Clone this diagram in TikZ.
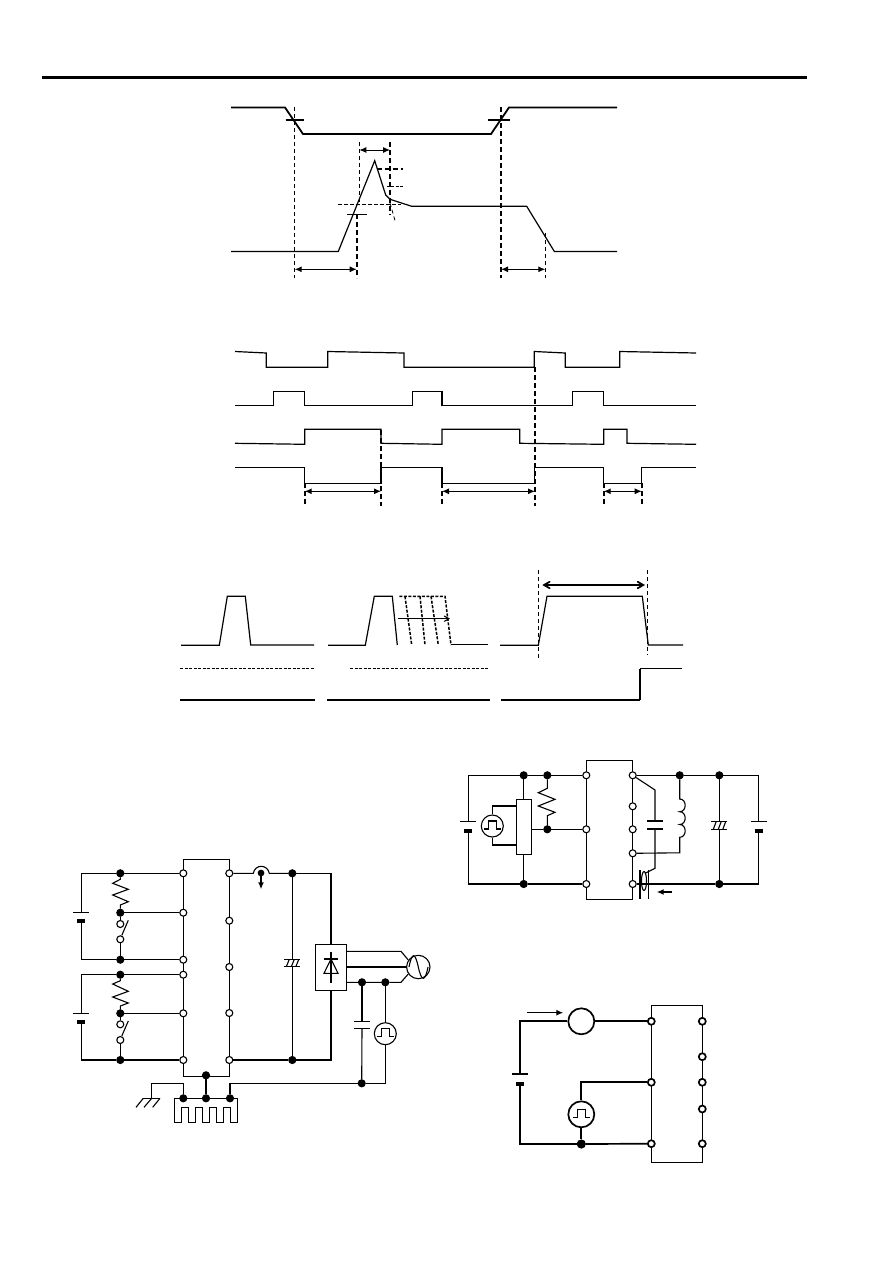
\documentclass[tikz,border=0pt]{standalone}
\usepackage{tikz}
\usetikzlibrary{shapes,arrows,arrows.meta,positioning,calc}
\newcommand{\pulsewave}[1]{\draw (#1) ++(-8,3) -- ++(4,0) -- ++(0,-8) -- ++(8.5,0) -- ++(0,8) -- ++(4,0);}
\newcommand{\battery}[2]{
  \draw (#1) ++(-8,0) -- ++(16,0);
  \draw [line width=4pt] (#2) ++(-4,0.8) -- ++(8,0);}
\newcommand{\elcap}[2]{
  \draw (#1) ++(-8,0) -- ++(16,0);
  \draw (#2) ++(-8,0) -- ++(16,0);
  \draw (#2) ++(-6,0) -- ($(#1)+(-3,0)$) (#2) ++(-1,0) -- ($(#1)+(2,0)$) (#2) ++(3.5,0) -- ($(#1)+(6.5,0)$);}
\newcommand{\twoplate}[2]{
  \draw (#1) ++(-8,0) -- ++(16,0);
  \draw (#2) ++(-8,0) -- ++(16,0);}
\tikzset{
term/.style = {draw, fill=white, circle, inner sep=0pt, minimum size=7pt},
fork/.style = {draw, fill=black, circle, inner sep=0pt, minimum size=7pt},
chip/.style = {draw, rectangle, inner sep=0pt, outer sep=0pt},
source/.style = {draw, fill=white, circle, inner sep=0pt},
wave/.style = {line width=1.2pt},
fatwave/.style = {line width=1.8pt},
guide/.style = {dashed, dash pattern=on 4pt off 3pt, line width=.9pt},
fatguide/.style = {dashed, dash pattern=on 5pt off 3pt, line width=1.7pt},
dotguide/.style = {dashed, dash pattern=on 3pt off 1.5pt, line width=1.5pt},
dimen/.style = {<->, line width=1pt},
fatwire/.style = {line width=1.7pt},
}
\begin{document}
\begin{tikzpicture}[x=1pt, y=-1pt, >={Latex[length=7pt,width=6pt]}, line width=1.1pt]
\useasboundingbox (0,0) rectangle (892,1263);
\draw [line width=3pt] (42,77) -- (807,77);

\draw [fatwave] (231,107.5) -- (285,107.5) -- (303,134) -- (491,134) -- (509,107.5) -- (617,107.5);
\draw (285.7,120) -- (304,120) (488,120) -- (510,120);
\draw [wave] (231,251.4) -- (338.3,251.4) -- (374.7,160.7) -- (385.7,195) -- (390,199.3) -- (411.7,206.3) -- (526.7,206.3) -- (554.3,251.4) -- (617,251.4);
\draw [guide, line width=.8pt] (390,203) -- (395.7,223);
\draw [guide] (294.7,107) -- (294.7,278);
\draw [fatguide] (501,107) -- (501,278);
\draw [guide] (359.3,142) -- (359.3,205);
\draw [fatguide] (356.7,214) -- (356.7,278);
\draw [fatguide] (390,142) -- (390,215);
\draw [guide] (545.3,233) -- (545.3,278);
\draw [dotguide, dash pattern=on 4pt off 2pt] (337.7,204.7) -- (401,204.7);
\draw [fatguide] (376.7,169) -- (403,169);
\draw [dotguide] (386.7,186.7) -- (403,186.7);
\draw (347.3,214.3) -- (366.7,214.3);
\draw [dimen] (359.3,150) -- (390,150);
\draw [dimen] (294.7,269.3) -- (356.7,269.3);
\draw [dimen] (501,269.3) -- (545.3,269.3);

\draw [wave] (235,351.5) -- (266.3,353) -- (266.3,367.3) -- (327.7,367.3) -- (327.7,351.5) -- (404,353) -- (404,367.3) -- (534.3,367.3) -- (534.3,351.5) -- (565.3,353) -- (565.3,367.3) -- (619.7,367.3) -- (619.7,351.5) -- (696,353);
\draw [wave] (235,405.7) -- (273.7,405.7) -- (273.7,391.3) -- (304.7,391.3) -- (304.7,405.7) -- (412.3,405.7) -- (412.3,391.3) -- (442,391.3) -- (442,405.7) -- (572.7,405.7) -- (572.7,391.3) -- (603.7,391.3) -- (603.7,405.7) -- (696,405.7);
\draw [wave] (235,443.3) -- (304.7,444.3) -- (304.7,429.3) -- (381,429.3) -- (381,443.3) -- (442,444.3) -- (442,429.3) -- (519.7,429.3) -- (519.7,443.3) -- (603.7,444.3) -- (603.7,429.3) -- (627,429.3) -- (627,443.3) -- (696,444.3);
\draw [wave] (235,467.3) -- (304.7,467.3) -- (304.7,483.3) -- (381,483.3) -- (381,467.3) -- (442,467.3) -- (442,483.3) -- (534.3,483.3) -- (534.3,467.3) -- (603.7,467.3) -- (603.7,483.3) -- (641.7,483.3) -- (641.7,467.3) -- (696,467.3);
\draw [fatguide] (304.7,483) -- (304.7,506);
\draw [fatguide] (381,430) -- (381,506);
\draw [fatguide] (442,483) -- (442,506);
\draw [fatguide] (535,367) -- (535,506);
\draw [fatguide] (603.7,483) -- (603.7,506);
\draw [fatguide] (641.7,483) -- (641.7,506);
\draw [dimen] (304.7,491.3) -- (381,491.3);
\draw [dimen] (442,491.3) -- (535,491.3);
\draw [dimen] (603.7,491.3) -- (641.7,491.3);

\draw [wave] (181,645.3) -- (219.3,645.3) -- (227.3,596.3) -- (245.3,596.3) -- (250.7,645) -- (314,645);
\draw [dotguide] (180,668.7) -- (314,668.7);
\draw (180,700) -- (315,700);
\draw [wave] (328,645.3) -- (365.3,645.3) -- (374.3,596.3) -- (392.3,596.3) -- (397.3,645);
\draw [dotguide] (399.3,596.3) -- (445,596.3) -- (451,645);
\draw [dotguide] (405,596.3) -- (411.7,645);
\draw [dotguide] (420,596.3) -- (425,645);
\draw [dotguide] (431,596.3) -- (438.3,645);
\draw (451,644.6) -- (487.7,644.6);
\draw [->, >=angle 60] (398,618.7) -- (450,618.7);
\draw [dotguide] (350,668.7) -- (489,668.7);
\draw (326.7,700) -- (490,700);
\draw [wave] (500,645.3) -- (538.3,645.3) -- (547,596.3) -- (642.3,596.3) -- (648.3,645) -- (683,645);
\draw [guide] (538.3,570) -- (538.3,657.7);
\draw [guide] (647.3,570) -- (647.3,655);
\draw [<->, >=angle 60, line width=1.7pt] (542.3,585) -- (645,585);
\draw (501.3,700) -- (640,700);
\draw [line width=1.8pt] (640,700) -- (640,668.7);
\draw (640,668.7) -- (682,668.7);

\node [chip, minimum width=46pt, minimum height=216.7pt] (icone) at (206.3,967.7) {};
\node [term] (l1) at (183.3,873.3) {};
\node [term] (l2) at (183.3,912.7) {};
\node [term] (l3) at (183.3,959.7) {};
\node [term] (l4) at (183.3,974.7) {};
\node [term] (l5) at (183.3,1013.3) {};
\node [term] (l6) at (183.3,1060) {};
\node [term] (r1) at (229.3,873.3) {};
\node [term] (r2) at (229.3,920.7) {};
\node [term] (r3) at (229.3,967) {};
\node [term] (r4) at (229.3,1013) {};
\node [term] (r5) at (229.3,1060) {};
\node [fork] (j1) at (120.3,873.3) {};
\node [fork] (j2) at (120.3,912.7) {};
\node [fork] (j3) at (120.3,959.7) {};
\node [fork] (j4) at (120.3,974.7) {};
\node [fork] (j5) at (120.3,1013.3) {};
\node [fork] (j6) at (120.3,1060) {};
\node [term] (s1) at (120.3,924) {};
\node [term] (s2) at (120.3,939.3) {};
\node [term] (s3) at (120.3,1024.3) {};
\node [term] (s4) at (120.3,1040) {};
\draw (j1) -- (l1);
\draw (j2) -- (l2);
\draw (j3) -- (l3);
\draw (j4) -- (l4);
\draw (j5) -- (l5);
\draw (j6) -- (l6);
\draw (j2) -- (s1);
\draw (s2) -- (j3);
\draw (j5) -- (s3);
\draw (s4) -- (j6);
\draw (s2) ++(1.5,-4) -- ++(6.5,-15);
\draw (s4) ++(1.5,-4) -- ++(6.5,-15);
\draw (j1) -- (120.3,879.3) -- (112.7,883.3) -- (128.3,889.3) -- (112.7,895) -- (128.3,901.7) -- (120.3,905) -- (j2);
\draw (j4) -- (120.3,980.7) -- (112.7,984) -- (128.3,991.3) -- (112.7,997) -- (128.3,1003) -- (120.3,1006) -- (j5);
\coordinate (b1p) at (81.3,912.3);
\coordinate (b1n) at (81.3,919.7);
\coordinate (b2p) at (81.3,1013.3);
\coordinate (b2n) at (81.3,1021);
\draw (j1) -| (b1p);
\draw (j3) -| (b1n);
\draw (j4) -| (b2p);
\draw (j6) -| (b2n);
\battery{b1p}{b1n}
\battery{b2p}{b2n}

\node [fork] (sinkm) at (206,1075.3) {};
\node [fork] (sinkl) at (183.3,1098.3) {};
\node [fork] (sinkc) at (206,1098.3) {};
\node [fork] (sinkr) at (230,1098.3) {};
\draw (sinkm) -- (sinkc);
\draw (237.3,1098.3) -- (174.3,1098.3) -- (174.3,1122.3) -- (181.3,1122.3) -- (181.3,1107.3) -- (188.3,1107.3) -- (188.3,1122.3) -- (195.3,1122.3) -- (195.3,1107.3) -- (202.3,1107.3) -- (202.3,1122.3) -- (209.3,1122.3) -- (209.3,1107.3) -- (216.3,1107.3) -- (216.3,1122.3) -- (223.3,1122.3) -- (223.3,1107.3) -- (230.3,1107.3) -- (230.3,1122.3) -- (237.3,1122.3) -- cycle;
\coordinate (gnd) at (151.7,1098.3);
\coordinate (gndup) at (151.7,1083.3);
\draw (sinkl) |- (gndup) -- (gnd);
\draw (143.3,1098.3) -- (160,1098.3);
\draw (143.3,1098.3) -- (136,1107.3) (151.7,1098.3) -- (144,1107.3) (160,1098.3) -- (152.7,1107.3);

\node [fork] (v1) at (292.3,873.3) {};
\node [fork] (v2) at (292.3,1060) {};
\coordinate (humpa) at (253.3,873.3);
\coordinate (humpb) at (269.3,873.3);
\draw (r1) -- (humpa) .. controls (255,864) and (267.5,864) .. (humpb) -- (v1);
\node [fork, minimum size=5.5pt] (probe) at (261,873) {};
\coordinate (probeend) at (261,889.3);
\draw [->, line width=1.7pt] (probe) -- (probeend);
\coordinate (c1top) at (292.3,959.3);
\coordinate (c1bot) at (292.3,966.7);
\draw (v1) -- (c1top);
\draw (c1bot) -- (v2);
\elcap{c1top}{c1bot}
\node [chip, minimum width=31.4pt, minimum height=46pt] (rect) at (331,967.3) {};
\draw (v1) -| (rect.north);
\draw (r5) -- (v2) -| (rect.south);
\draw (331,951.7) -- (331,982.7);
\draw (324,959) -- (338,959);
\draw (331,959) -- (324,973.3) -- (338,973.3) -- cycle;
\node [source, minimum size=23.4pt] (ac) at (418.3,967) {};
\draw (409,967) .. controls (412,952) and (415,952) .. (418.3,967) .. controls (421.6,982) and (425,982) .. (428,967);
\coordinate (acup) at (401,951.3);
\coordinate (aclo) at (401,982.3);
\draw (rect.east |- acup) -- (acup) -- (ac.145);
\draw (rect.east |- ac) -- (ac);
\node [fork] (t1) at (362,982.3) {};
\node [fork] (t2) at (385.3,982.3) {};
\draw (rect.east |- aclo) -- (t1) -- (t2) -- (aclo) -- (ac.215);
\node [fork] (t3) at (361.7,1083.3) {};
\coordinate (c2top) at (362,1021.3);
\coordinate (c2bot) at (362,1028.3);
\draw (t1) -- (c2top);
\draw (c2bot) -- (t3);
\twoplate{c2top}{c2bot}
\node [source, minimum size=22pt] (pulseb) at (385.3,1033.7) {};
\pulsewave{pulseb.center}
\draw (t2) -- (pulseb);
\draw (pulseb) |- (t3);
\draw (sinkr) |- (t3);

\node [chip, minimum width=46.4pt, minimum height=139pt] (ictwo) at (609.5,829.8) {};
\node [term] (a1) at (586.3,775.3) {};
\node [term] (a2) at (586.3,829.3) {};
\node [term] (a3) at (586.3,884) {};
\node [term] (b1) at (632.7,775.3) {};
\node [term] (b2) at (632.7,806.3) {};
\node [term] (b3) at (632.7,829.3) {};
\node [term] (b4) at (632.7,853.3) {};
\node [term] (b5) at (632.7,884) {};
\node [fork] (k1) at (523.7,775.3) {};
\node [fork] (k2) at (547.3,775.3) {};
\node [fork] (k3) at (523.7,884) {};
\node [fork] (k4) at (547.3,829.3) {};
\node [fork] (k5) at (679.7,775.3) {};
\node [fork] (k6) at (719.3,775.3) {};
\node [fork] (k7) at (719.3,884) {};
\coordinate (b3p) at (468.3,821.3);
\coordinate (b3n) at (468.3,830);
\coordinate (b4p) at (758.7,821.3);
\coordinate (b4n) at (758.7,830);
\draw (k1) -| (b3p);
\draw (k3) -| (b3n);
\battery{b3p}{b3n}
\draw (k1) -- (k2) -- (a1);
\draw (k3) -- (a3);
\node [chip, minimum width=15.4pt, minimum height=55pt] (drive) at (524,826.8) {};
\draw (k1) -- (k1 |- drive.north);
\draw (k1 |- drive.south) -- (k3);
\node [source, minimum size=22pt] (pulsec) at (492.3,826) {};
\pulsewave{pulsec.center}
\coordinate (drvup) at (516.3,806);
\coordinate (drvlo) at (516.3,845);
\draw (pulsec) |- (drvup);
\draw (pulsec) |- (drvlo);
\draw (drive.east |- k4) -- (k4) -- (a2);
\draw (k2) -- (547.3,788.3) -- (538.3,792.7) -- (555,799.3) -- (538.3,806) -- (555,812.3) -- (547.3,815.7) -- (k4);
\draw (b1) -- (k5) -- (k6) -| (b4p);
\draw (b5) -- (k7) -| (b4n);
\battery{b4p}{b4n}
\coordinate (c3top) at (719.3,821.3);
\coordinate (c3bot) at (719.3,829.3);
\draw (k6) -- (c3top);
\draw (c3bot) -- (k7);
\elcap{c3top}{c3bot}
\draw (k5) -- (679.7,799) .. controls (687,799) and (687,811.7) .. (679.7,811.7) .. controls (687,811.7) and (687,824.5) .. (679.7,824.5) .. controls (687,824.5) and (687,837.3) .. (679.7,837.3) -- (679.7,852.8) -- (b4);
\coordinate (c4top) at (655,821);
\coordinate (c4bot) at (655,829);
\draw (b1) -- (655,790) -- (c4top);
\draw (c4bot) -- (655,868.3) -- (645,873.3);
\twoplate{c4top}{c4bot}
\draw (640,870) -- (640,899.3);
\draw (648.3,870) -- (648.3,899.3);
\draw (644,881) ellipse (2.5 and 9.5);
\coordinate (senseend) at (656.7,892);
\draw [->, line width=1.3pt] (671.7,892) -- (senseend);

\node [chip, minimum width=51pt, minimum height=157pt] (icthree) at (676.8,1083.8) {};
\node [term, fatwire] (p1) at (651.3,1021.3) {};
\node [term, fatwire] (p2) at (651.3,1082.3) {};
\node [term, fatwire] (p3) at (651.3,1143.7) {};
\node [term, fatwire] (q1) at (702.3,1021.3) {};
\node [term, fatwire] (q2) at (702.3,1056.7) {};
\node [term, fatwire] (q3) at (702.3,1082.3) {};
\node [term, fatwire] (q4) at (702.3,1109) {};
\node [term, fatwire] (q5) at (702.3,1143.7) {};
\node [source, fatwire, minimum size=26pt] (meter) at (581.3,1021.3) {};
\node [source, fatwire, minimum size=26pt] (pulsed) at (581.3,1114.3) {};
\pulsewave{pulsed.center}
\node [fork, minimum size=8pt] (w1) at (581.3,1144) {};
\coordinate (b5p) at (520,1074);
\coordinate (b5n) at (520,1083.3);
\draw [fatwire] (meter) -| (b5p);
\draw [fatwire] (w1) -| (b5n);
\battery{b5p}{b5n}
\draw [fatwire] (meter) -- (p1);
\draw [fatwire] (w1) -- (p3);
\draw [fatwire] (pulsed) |- (p2);
\draw [fatwire] (pulsed) -- (w1);
\coordinate (flowend) at (563.3,1012.7);
\draw [->, line width=1.3pt] (527.3,1012.7) -- (flowend);
\end{tikzpicture}
\end{document}
